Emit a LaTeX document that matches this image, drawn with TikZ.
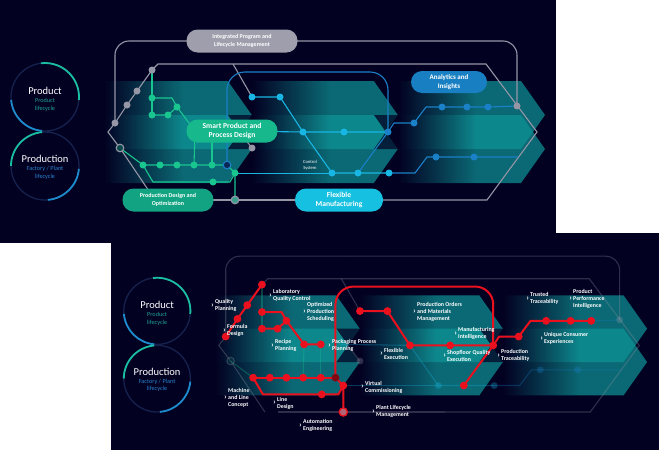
\documentclass[tikz,border=0pt]{standalone}
\usepackage{fontspec}
\setmainfont{Carlito}
\usetikzlibrary{positioning}

\definecolor{bgnavy}{RGB}{3,1,34}
\definecolor{bandteal}{RGB}{14,150,152}
\definecolor{ringdark}{RGB}{22,34,78}
\definecolor{ringgreen}{RGB}{26,190,160}
\definecolor{ringblue}{RGB}{28,140,205}
\definecolor{lifegreen}{RGB}{30,160,150}
\definecolor{lifeblue}{RGB}{40,130,205}
\definecolor{netgrey}{RGB}{150,150,166}
\definecolor{netgreen}{RGB}{26,198,144}
\definecolor{netcyan}{RGB}{24,182,228}
\definecolor{netblue}{RGB}{26,128,200}
\definecolor{pillgrey}{RGB}{158,158,172}
\definecolor{pillgreen}{RGB}{22,184,140}
\definecolor{pilldark}{RGB}{18,164,130}
\definecolor{pillcyan}{RGB}{22,192,224}
\definecolor{pillblue}{RGB}{24,128,194}
\definecolor{hotred}{RGB}{234,16,30}

\pgfdeclarehorizontalshading{bandfade}{100bp}{color(0bp)=(bgnavy); color(32bp)=(bgnavy); color(55bp)=(bandteal); color(100bp)=(bandteal)}

\tikzset{
  netfade/.style={},
  gline/.style={draw=netgrey, line width=1.1pt, netfade},
  nline/.style={draw=netgreen, line width=1.1pt, netfade},
  cline/.style={draw=netcyan, line width=1.1pt, netfade},
  bline/.style={draw=netblue, line width=1.1pt, netfade},
  gdot/.style={fill=netgrey, netfade},
  ndot/.style={fill=netgreen, netfade},
  cdot/.style={fill=netcyan, netfade},
  bdot/.style={fill=netblue, netfade},
  redline/.style={draw=hotred, line width=2pt, line join=round},
  reddot/.style={fill=hotred},
  pill/.style={rectangle, rounded corners=11, minimum height=23, inner sep=1pt, align=center, text=white},
  bigword/.style={text=white, inner sep=0pt, font=\fontsize{10.5}{12}\selectfont},
  lifeword/.style={inner sep=0pt, align=center, font=\fontsize{6.2}{7.6}\selectfont},
  lbl/.style={anchor=west, align=left, inner sep=0pt, text=white, font=\bfseries\fontsize{5.9}{7}\selectfont},
  chev/.style={inner sep=0pt, text=white, font=\bfseries\fontsize{8}{8}\selectfont}
}

%% one chevron of the band: left x, tip x, top y
\newcommand\bandarrow[3]{%
  \shade[shading=bandfade, fill opacity=0.7]
    (#1,#3) -- (#2-24,#3) -- (#2,#3+34) -- (#2-24,#3+68) -- (#1,#3+68) -- (#1+24,#3+34) -- cycle;}

%% bands and lifecycle circles
\newcommand\slidebase{%
  \foreach \l/\r in {80/252, 228/398, 374/545}{
    \bandarrow{\l}{\r}{81}
    \bandarrow{\l}{\r}{115}
  }
  \draw[ringdark, line width=1.3pt] (45,97) circle (34) (45,166) circle (34);
  \draw[ringgreen, line width=1.8pt] (45,97) ++(-97:34) arc[start angle=-97, end angle=5, radius=34];
  \draw[ringblue, line width=1.8pt] (45,97) ++(-185:34) arc[start angle=-185, end angle=-265, radius=34];
  \draw[ringgreen, line width=1.8pt] (45,166) ++(-95:34) arc[start angle=-95, end angle=-180, radius=34];
  \draw[ringblue, line width=1.8pt] (45,166) ++(5:34) arc[start angle=5, end angle=85, radius=34];
  \node[bigword] (product) at (45,91) {Product};
  \node[lifeword, text=lifegreen] (productlife) at (45,105) {Product\\lifecycle};
  \node[bigword] (production) at (45,159) {Production};
  \node[lifeword, text=lifeblue] (productionlife) at (45,173) {Factory / Plant\\lifecycle};
}

%% stops and bends of the network
\newcommand\netpoints{%
  \coordinate (iplc) at (242,41);
  \coordinate (spdc) at (232,131);
  \coordinate (pdoc) at (168,200);
  \coordinate (fmc)  at (339,200);
  \coordinate (fa) at (115,41);
  \coordinate (fb) at (517,41);
  \coordinate (g1) at (152,70);
  \coordinate (g2) at (137,91);
  \coordinate (g3) at (127,105);
  \coordinate (g4) at (115,123);
  \coordinate (g5) at (517,106);
  \coordinate (g6) at (120,148);
  \coordinate (g7) at (235,200);
  \coordinate (g8) at (252,148);
  \coordinate (hx) at (108,132);
  \coordinate (h1) at (158,64);
  \coordinate (h2) at (486,64);
  \coordinate (h3) at (537,132);
  \coordinate (h4) at (487,200);
  \coordinate (k9) at (233,64);
  \coordinate (k10) at (155,200);
  \coordinate (k11) at (238,130);
  \coordinate (n1) at (152,98);
  \coordinate (k1) at (172,98);
  \coordinate (n2) at (177,107);
  \coordinate (n3) at (152,115);
  \coordinate (n4) at (168,115);
  \coordinate (p5) at (195,131);
  \coordinate (p6) at (212,131);
  \coordinate (n5) at (143,165);
  \coordinate (n6) at (160,165);
  \coordinate (n7) at (177,165);
  \coordinate (n8) at (194,165);
  \coordinate (n9) at (212,165);
  \coordinate (c1) at (227,165);
  \coordinate (k2) at (153,182);
  \coordinate (n10) at (213,182);
  \coordinate (k3) at (230,182);
  \coordinate (n11) at (235,173);
  \coordinate (cs) at (332,173);
  \coordinate (f1) at (227,72);
  \coordinate (f2) at (388,72);
  \coordinate (b1) at (252,97);
  \coordinate (b2) at (280,97);
  \coordinate (b3) at (303,132);
  \coordinate (b4) at (344,132);
  \coordinate (b6) at (388,132);
  \coordinate (b5) at (358,173);
  \coordinate (b7) at (389,173);
  \coordinate (k4) at (415,173);
  \coordinate (k5) at (427,157);
  \coordinate (b8) at (436,157);
  \coordinate (b9) at (474,157);
  \coordinate (k6) at (518,157);
  \coordinate (k7) at (394,123);
  \coordinate (b10) at (414,123);
  \coordinate (k8) at (426,107);
  \coordinate (b11) at (442,107);
  \coordinate (b12) at (467,107);
  \coordinate (b13) at (488,107);
}

\newcommand\netlines{%
  %% grey
  \draw[gline, rounded corners=14] (iplc) -- (fa) -- (g4);
  \draw[gline, rounded corners=14] (iplc) -- (fb) -- (g5);
  \draw[gline] (g1) -- (h1) -- (h2) -- (h3) -- (h4) -- (fmc);
  \draw[gline] (g1) -- (g2) -- (g3) -- (g4) -- (hx) -- (g6) -- (k10);
  \draw[gline] (pdoc) -- (g7) -- (fmc);
  \draw[gline] (k9) -- (b1);
  \draw[gline] (k11) -- (g8);
  %% green
  \draw[nline] (g1) -- (n1) -- (n3);
  \draw[nline] (n1) -- (k1) -- (n2) -- (p5) -- (p6);
  \draw[nline] (n3) -- (n4) -- (n2);
  \draw[nline] (p5) -- (n8);
  \draw[nline] (p6) -- (n9);
  \draw[nline] (g6) -- (n5) -- (n6) -- (n7) -- (n8) -- (n9) -- (c1);
  \draw[nline] (n5) -- (k2) -- (n10) -- (k3) -- (n11);
  \draw[nline] (c1) -- (n11) -- (g7);
  \draw[cline, line width=0.7pt] (n11) -- (cs);
  %% blue
  \draw[bline, rounded corners=18] (c1) -- (f1) -- (f2) -- (b6);
  \draw[cline] (b1) -- (b2) -- (b3) -- (cs) -- (b5) -- (b7);
  \draw[cline] (spdc) -- (b3) -- (b4) -- (b6);
  \draw[bline] (b6) -- (b5);
  \draw[bline] (b7) -- (k4) -- (k5) -- (b8) -- (b9) -- (k6);
  \draw[bline] (b6) -- (k7) -- (b10) -- (k8) -- (b11) -- (b12) -- (b13) -- (g5);
}

\newcommand\netdots{%
  \foreach \p in {g1,g2,g3,g4,g5,g8} \fill[gdot] (\p) circle (3.5);
  \foreach \p in {n1,n2,n3,n4,n5,n6,n7,n8,n9,n10,n11} \fill[ndot] (\p) circle (3.5);
  \foreach \p in {b1,b2,b3,b4,cs,b5,b7} \fill[cdot] (\p) circle (3.5);
  \foreach \p in {b6,b8,b9,b10,b11,b12,b13} \fill[bdot] (\p) circle (3.5);
  \draw[gline, fill=pilldark!45!bgnavy] (g6) circle (3.8);
  \draw[gline, fill=pilldark!70!netgrey] (g7) circle (3.8);
  \draw[bline, fill=netblue!30!bgnavy] (c1) circle (3.8);
}

%% red label with its chevron
\newcommand\usecase[3]{%
  \node[lbl] (#1) at (#2) {#3};
  \node[chev, left=0.8pt of #1] (#1-c) {›};}

\begin{document}
\begin{tikzpicture}[x=1pt, y=-1pt]
\useasboundingbox (0,0) rectangle (659,450);
\fill[white] (0,0) rectangle (659,450);

%% upper slide
\fill[bgnavy] (0,0) rectangle (556,243);
\begin{scope}
  \slidebase
  \netpoints
  \netlines
  \netdots
  \node[pill, fill=pillgrey, minimum width=111, font=\bfseries\fontsize{6}{7.2}\selectfont] (ipl) at (iplc) {Integrated Program and\\Lifecycle Management};
  \node[pill, fill=pillgreen, minimum width=91, font=\bfseries\fontsize{7.6}{9}\selectfont] (spd) at (spdc) {Smart Product and\\Process Design};
  \node[pill, fill=pilldark, minimum width=91, font=\bfseries\fontsize{6}{7.4}\selectfont] (pdo) at (pdoc) {Production Design and\\Optimization};
  \node[pill, fill=pillcyan, minimum width=88, font=\bfseries\fontsize{7.6}{9}\selectfont] (fm) at (fmc) {Flexible\\Manufacturing};
  \node[pill, fill=pillblue, minimum width=76, minimum height=22, font=\bfseries\fontsize{7}{8.4}\selectfont] (ai) at (449,82) {Analytics and\\Insights};
  \node[inner sep=0pt, align=center, text=white, font=\fontsize{4.6}{5.6}\selectfont] (ctrl) at (310,165) {Control\\System};
\end{scope}

%% lower slide
\fill[bgnavy] (111,233) rectangle (659,450);
\begin{scope}[shift={(113,216)}, scale=0.98, netfade/.style={opacity=0.3}]
  \slidebase
  \netpoints
  \netlines
  \netdots
  %% highlighted path
  \draw[redline] (g1) -- (g2) -- (g3) -- (g4);
  \draw[redline] (n1) -- (k1) -- (n2) -- (p5) -- (p6);
  \draw[redline] (n3) -- (n4) -- (n2);
  \draw[redline] (n5) -- (n6) -- (n7) -- (n8) -- (n9) -- (c1);
  \draw[redline] (n5) -- (k2) -- (n10) -- (k3) -- (n11) -- (g7);
  \draw[redline] (c1) -- (n11);
  \draw[redline, rounded corners=18] (c1) -- (f1) -- (f2) -- (b6);
  \draw[redline] (b1) -- (b2) -- (b3) -- (b4) -- (b6) -- (b5);
  \draw[redline] (b6) -- (k7) -- (b10) -- (k8) -- (b11) -- (b12) -- (b13);
  \foreach \p in {g1,g2,g3,g4,n1,n2,n3,n4,p5,p6,n5,n6,n7,n8,n9,n10,n11,b1,b2,b3,b4,b6,b5,b10,b11,b12,b13}
    \fill[reddot] (\p) circle (4);
  \fill[hotred!55!black] (c1) circle (4);
  \draw[hotred, line width=1.3pt, fill=hotred!35!netgrey] (g7) circle (4.2);
\end{scope}

%% labels of the lower slide
\usecase{qp}{215,305.5}{Quality\\Planning}
\usecase{lqc}{273,295.5}{Laboratory\\Quality Control}
\usecase{fd}{227,330.5}{Formula\\Design}
\usecase{ops}{307,312}{Optimized\\Production\\Scheduling}
\usecase{rp}{275,345.5}{Recipe\\Planning}
\usecase{ppp}{332,345.5}{Packaging Process\\Planning}
\usecase{mlc}{228,398}{Machine\\and Line\\Concept}
\usecase{ld}{277,403}{Line\\Design}
\usecase{ae}{303,425.5}{Automation\\Engineering}
\usecase{vc}{365,387}{Virtual\\Commissioning}
\usecase{plm}{376,411.5}{Plant Lifecycle\\Management}
\usecase{fe}{384,353.5}{Flexible\\Execution}
\usecase{pom}{417,312}{Production Orders\\and Materials\\Management}
\usecase{mi}{458,333.5}{Manufacturing\\Intelligence}
\usecase{sqe}{447,355.5}{Shopfloor Quality\\Execution}
\usecase{pt}{501,355.5}{Production\\Traceability}
\usecase{tt}{530,298.5}{Trusted\\Traceability}
\usecase{ppi}{573,299}{Product\\Performance\\Intelligence}
\usecase{uce}{544,338.5}{Unique Consumer\\Experiences}

\end{tikzpicture}
\end{document}
